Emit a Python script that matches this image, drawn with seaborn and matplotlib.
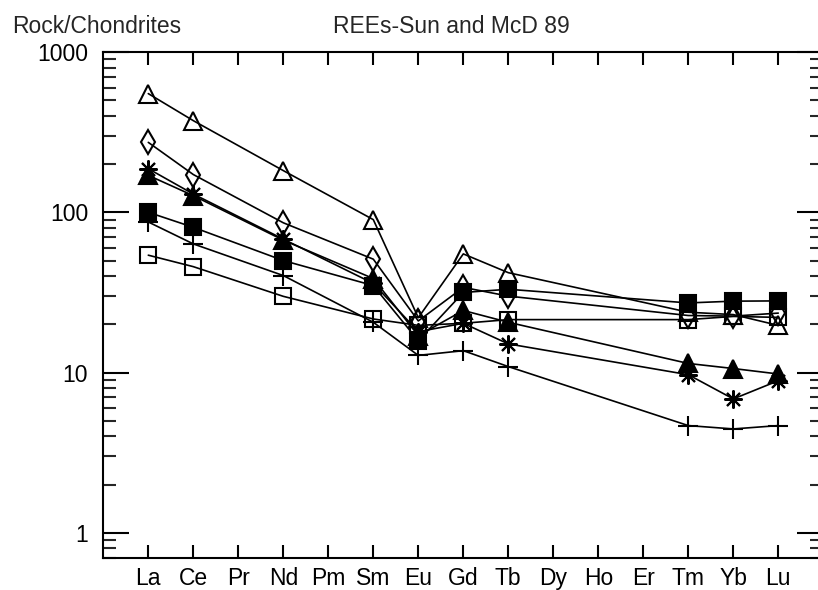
import numpy as np
import pandas as pd
import matplotlib
matplotlib.use('Agg')
import matplotlib.pyplot as plt
import seaborn as sns
from matplotlib.ticker import FixedLocator, LogLocator, NullFormatter, NullLocator, FuncFormatter

# REE order on the x axis (Pr, Pm, Dy, Ho, Er not measured)
elements = ['La', 'Ce', 'Pr', 'Nd', 'Pm', 'Sm', 'Eu', 'Gd', 'Tb',
            'Dy', 'Ho', 'Er', 'Tm', 'Yb', 'Lu']
measured = ['La', 'Ce', 'Nd', 'Sm', 'Eu', 'Gd', 'Tb', 'Tm', 'Yb', 'Lu']

# chondrite-normalised values
open_tri = [550, 373, 182, 90, 22, 55, 42, 23.8, 23, 19.7]
open_dia = [273, 172, 86, 51, 21, 34, 30, 22.7, 22.5, 23.5]
aster = [187, 130, 68, 36, 18, 20.3, 15.1, 9.7, 6.85, 8.9]
fill_tri = [170, 127, 67, 38.6, 17, 24.4, 20.6, 11.4, 10.6, 9.8]
fill_sq = [100, 80.6, 50, 34.9, 15.8, 31.6, 33.1, 27.2, 27.9, 28]
plus = [87, 63.5, 40.3, 20.6, 12.8, 13.7, 10.9, 4.67, 4.45, 4.67]
open_sq = [54, 45.8, 29.9, 21.6, 19.7, 20.3, 21.4, 21.4, 22.4, 22.1]

series = {
    'open_sq': open_sq,
    'plus': plus,
    'fill_sq': fill_sq,
    'fill_tri': fill_tri,
    'aster': aster,
    'open_dia': open_dia,
    'open_tri': open_tri,
}

# marker style per sample
styles = {
    'open_tri': dict(marker='^', ms=13.5, mfc='none'),
    'open_dia': dict(marker='d', ms=12, mfc='none'),
    'aster': dict(marker=(8, 2, 0), ms=13, mfc='black'),
    'fill_tri': dict(marker='^', ms=13.5, mfc='black'),
    'fill_sq': dict(marker='s', ms=11.5, mfc='black'),
    'plus': dict(marker='+', ms=14, mfc='black'),
    'open_sq': dict(marker='s', ms=11.5, mfc='none'),
}

rows = []
for name, vals in series.items():
    for el, v in zip(measured, vals):
        rows.append({'sample': name, 'pos': elements.index(el) + 1, 'value': v})
df = pd.DataFrame(rows)

sns.set_style('ticks')
plt.rcParams['font.family'] = ['Liberation Sans', 'DejaVu Sans']
plt.rcParams['font.size'] = 16.5

W, H = 818, 590
fig = plt.figure(figsize=(W / 100, H / 100), dpi=100)
# frame runs past the right edge of the picture, as in the original
ax = fig.add_axes([103.3 / W, (H - 557.7) / H, 720 / W, 505.7 / H])

for name in series:
    sub = df[df['sample'] == name]
    sns.lineplot(data=sub, x='pos', y='value', ax=ax, color='black',
                 lw=1.2, estimator=None, legend=False, sort=True,
                 mec='black', mew=1.5, **styles[name])

ax.set_yscale('log')
ax.set_ylim(0.7, 1000)
ax.set_xlim(0, 16)

ax.xaxis.set_major_locator(FixedLocator(range(1, len(elements) + 1)))
ax.set_xticklabels(elements)
ax.xaxis.set_minor_locator(NullLocator())
ax.yaxis.set_major_locator(FixedLocator([1, 10, 100, 1000]))
ax.yaxis.set_major_formatter(FuncFormatter(lambda v, p: f'{v:g}'))
ax.yaxis.set_minor_locator(LogLocator(base=10, subs=np.arange(2, 10)))
ax.yaxis.set_minor_formatter(NullFormatter())

ax.tick_params(axis='x', which='major', direction='in', length=9.5, width=1.5,
               top=True, bottom=True, pad=7, labelsize=16.5, colors='black')
ax.tick_params(axis='y', which='major', direction='in', length=18.7, width=1.5,
               left=True, right=True, pad=11, labelsize=16.5, colors='black')
ax.tick_params(axis='y', which='minor', direction='in', length=9.5, width=1.5,
               left=True, right=True)

for sp in ax.spines.values():
    sp.set_visible(True)
    sp.set_linewidth(1.5)
    sp.set_color('black')

ax.set_xlabel('')
ax.set_ylabel('')

fig.text(12 / W, (H - 33) / H, 'Rock/Chondrites', fontsize=16.5, va='baseline', ha='left')
fig.text(333 / W, (H - 33) / H, 'REEs-Sun and McD 89', fontsize=16.5, va='baseline', ha='left')

fig.savefig('out.png', dpi=100)
